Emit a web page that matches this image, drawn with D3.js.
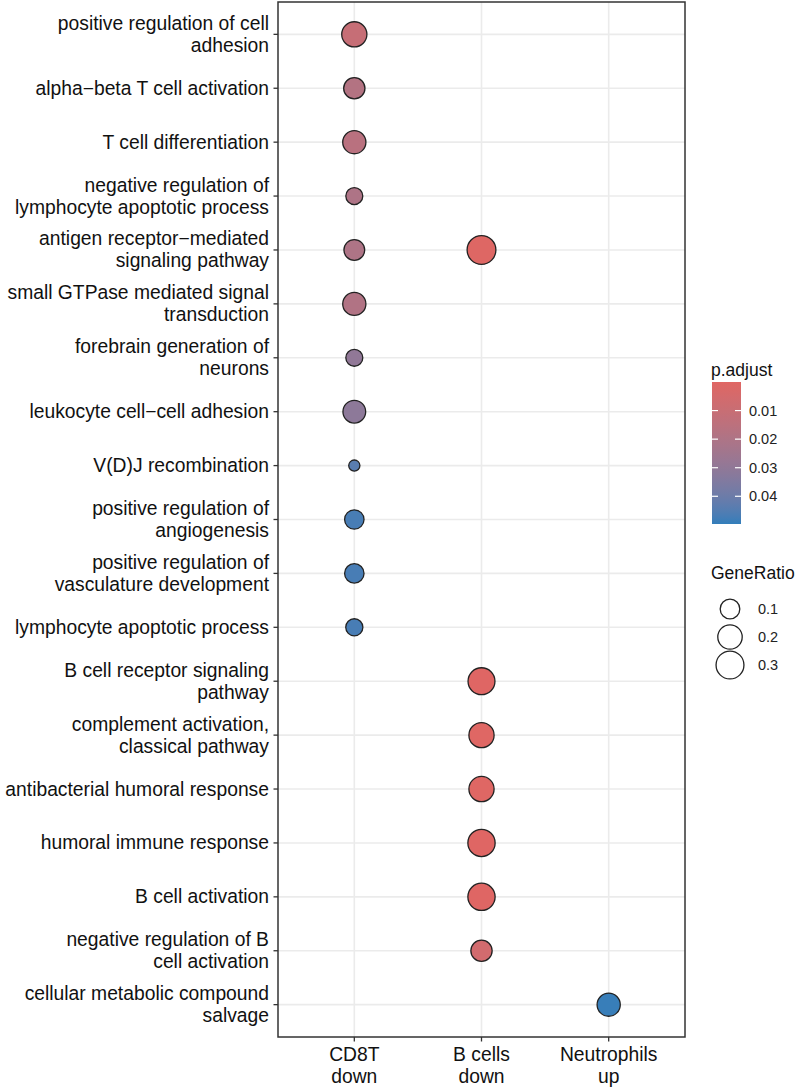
<!DOCTYPE html>
<html>
<head>
<meta charset="utf-8">
<script src="https://cdn.jsdelivr.net/npm/d3@7"></script>
<style>
  body { margin: 0; background: #fff; }
  svg { font-family: "Liberation Sans", Arial, sans-serif; }
</style>
</head>
<body>
<svg width="800" height="1088"></svg>
<script>
// terms, top to bottom
var terms = [
  "positive regulation of cell\nadhesion",
  "alpha\u2212beta T cell activation",
  "T cell differentiation",
  "negative regulation of\nlymphocyte apoptotic process",
  "antigen receptor\u2212mediated\nsignaling pathway",
  "small GTPase mediated signal\ntransduction",
  "forebrain generation of\nneurons",
  "leukocyte cell\u2212cell adhesion",
  "V(D)J recombination",
  "positive regulation of\nangiogenesis",
  "positive regulation of\nvasculature development",
  "lymphocyte apoptotic process",
  "B cell receptor signaling\npathway",
  "complement activation,\nclassical pathway",
  "antibacterial humoral response",
  "humoral immune response",
  "B cell activation",
  "negative regulation of B\ncell activation",
  "cellular metabolic compound\nsalvage"
];
var clusters = ["CD8T\ndown", "B cells\ndown", "Neutrophils\nup"];

// one entry per dot
var pointTerm    = [0, 1, 2, 3, 4, 4, 5, 6, 7, 8, 9, 10, 11, 12, 13, 14, 15, 16, 17, 18];
var pointCluster = [0, 0, 0, 0, 0, 1, 0, 0, 0, 0, 0, 0, 0, 1, 1, 1, 1, 1, 1, 2];
var geneRatio    = [0.22, 0.13, 0.17, 0.064, 0.12, 0.33, 0.17, 0.064, 0.16, 0.032, 0.097, 0.097, 0.066, 0.27, 0.22, 0.22, 0.28, 0.28, 0.13, 0.17];
var pAdjust      = [0.011, 0.018, 0.016, 0.020, 0.020, 0.0008, 0.019, 0.030, 0.031, 0.044, 0.047, 0.047, 0.047, 0.0005, 0.0006, 0.0006, 0.0004, 0.0004, 0.006, 0.049];

var colorTicks = [0.01, 0.02, 0.03, 0.04];
var sizeTicks = [0.1, 0.2, 0.3];

var svg = d3.select("svg");
var panel = {left: 278, right: 685, top: 2, bottom: 1037};

// discrete scales with ggplot-like 0.6 expansion
var x = d3.scalePoint().domain(d3.range(clusters.length))
  .range([panel.left, panel.right]).padding(0.6);
var y = d3.scalePoint().domain(d3.range(terms.length))
  .range([panel.top, panel.bottom]).padding(0.6);

var color = d3.scaleLinear().domain([0, 0.0497])
  .range(["#e06663", "#327eba"]).interpolate(d3.interpolateLab);

var gExtent = d3.extent(geneRatio);
var rLin = d3.scaleLinear().domain([0, 1]).range([5.6, 14.4]);
function radius(g) {
  return rLin(Math.sqrt((g - gExtent[0]) / (gExtent[1] - gExtent[0])));
}

// grid
var grid = svg.append("g");
grid.selectAll(".gx").data(d3.range(clusters.length)).enter().append("line")
  .attr("x1", d => x(d)).attr("x2", d => x(d))
  .attr("y1", panel.top).attr("y2", panel.bottom)
  .attr("stroke", "#ebebeb").attr("stroke-width", 1.6);
grid.selectAll(".gy").data(d3.range(terms.length)).enter().append("line")
  .attr("y1", d => y(d)).attr("y2", d => y(d))
  .attr("x1", panel.left).attr("x2", panel.right)
  .attr("stroke", "#ebebeb").attr("stroke-width", 1.6);

// dots
var pts = d3.range(pointTerm.length);
svg.append("g").selectAll("circle").data(pts).enter().append("circle")
  .attr("cx", i => x(pointCluster[i]))
  .attr("cy", i => y(pointTerm[i]))
  .attr("r", i => radius(geneRatio[i]))
  .attr("fill", i => color(pAdjust[i]))
  .attr("stroke", "#222").attr("stroke-width", 1.3);

// panel border
svg.append("rect")
  .attr("x", panel.left).attr("y", panel.top)
  .attr("width", panel.right - panel.left).attr("height", panel.bottom - panel.top)
  .attr("fill", "none").attr("stroke", "#333").attr("stroke-width", 1.5);

// y axis
var yAx = svg.append("g");
yAx.selectAll("line").data(d3.range(terms.length)).enter().append("line")
  .attr("x1", panel.left - 4.5).attr("x2", panel.left)
  .attr("y1", d => y(d)).attr("y2", d => y(d))
  .attr("stroke", "#333").attr("stroke-width", 1.3);
yAx.selectAll("text").data(terms).enter().append("text")
  .attr("x", panel.left - 9)
  .attr("y", (d, i) => y(i))
  .attr("text-anchor", "end")
  .attr("font-size", 19.3)
  .attr("fill", "#111")
  .each(function(d) {
    var lines = d.split("\n");
    var t = d3.select(this);
    var off = -(lines.length - 1) * 22 / 2 + 6.5;
    lines.forEach(function(l, k) {
      t.append("tspan").attr("x", panel.left - 9)
        .attr("dy", k === 0 ? off : 22).text(l);
    });
  });

// x axis
var xAx = svg.append("g");
xAx.selectAll("line").data(d3.range(clusters.length)).enter().append("line")
  .attr("x1", d => x(d)).attr("x2", d => x(d))
  .attr("y1", panel.bottom).attr("y2", panel.bottom + 4.5)
  .attr("stroke", "#333").attr("stroke-width", 1.3);
xAx.selectAll("text").data(clusters).enter().append("text")
  .attr("text-anchor", "middle")
  .attr("font-size", 19.3)
  .attr("fill", "#111")
  .each(function(d, i) {
    var t = d3.select(this);
    d.split("\n").forEach(function(l, k) {
      t.append("tspan").attr("x", x(i)).attr("y", 1061 + k * 22).text(l);
    });
  });

// colour legend
var barX = 712, barW = 29, barTop = 382, barBot = 524;
var defs = svg.append("defs");
var grad = defs.append("linearGradient").attr("id", "pgrad")
  .attr("x1", 0).attr("y1", 0).attr("x2", 0).attr("y2", 1);
d3.range(0, 1.0001, 0.05).forEach(function(t) {
  grad.append("stop").attr("offset", t)
    .attr("stop-color", color(color.domain()[0] + t * (color.domain()[1] - color.domain()[0])));
});
var cy = d3.scaleLinear().domain(color.domain()).range([barTop, barBot]);
svg.append("text").attr("x", 711).attr("y", 376).attr("font-size", 17.5)
  .attr("fill", "#111").text("p.adjust");
svg.append("rect").attr("x", barX).attr("y", barTop)
  .attr("width", barW).attr("height", barBot - barTop)
  .attr("fill", "url(#pgrad)");
var cl = svg.append("g");
colorTicks.forEach(function(v) {
  cl.append("line").attr("x1", barX).attr("x2", barX + 6)
    .attr("y1", cy(v)).attr("y2", cy(v)).attr("stroke", "#fff").attr("stroke-width", 1.2);
  cl.append("line").attr("x1", barX + barW - 6).attr("x2", barX + barW)
    .attr("y1", cy(v)).attr("y2", cy(v)).attr("stroke", "#fff").attr("stroke-width", 1.2);
  cl.append("text").attr("x", 749).attr("y", cy(v) + 5)
    .attr("font-size", 14.5).attr("fill", "#222").text(v.toFixed(2));
});

// size legend
svg.append("text").attr("x", 711).attr("y", 579).attr("font-size", 17.5)
  .attr("fill", "#111").text("GeneRatio");
var sizeY = d3.scalePoint().domain(sizeTicks).range([609, 665]);
var sl = svg.append("g");
sl.selectAll("circle").data(sizeTicks).enter().append("circle")
  .attr("cx", 730).attr("cy", d => sizeY(d)).attr("r", d => radius(d))
  .attr("fill", "#fff").attr("stroke", "#222").attr("stroke-width", 1.3);
sl.selectAll("text").data(sizeTicks).enter().append("text")
  .attr("x", 758).attr("y", d => sizeY(d) + 5)
  .attr("font-size", 14.5).attr("fill", "#222").text(d => d.toFixed(1));
</script>
</body>
</html>
